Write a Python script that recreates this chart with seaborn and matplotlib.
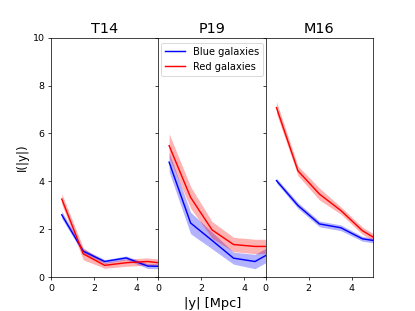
import numpy as np
import pandas as pd
import matplotlib
matplotlib.use("Agg")
import matplotlib.pyplot as plt
import seaborn as sns

panels = ["T14", "P19", "M16"]
y_bins = [0.5, 1.5, 2.5, 3.5, 4.5, 5.5]

# mean profiles and their band half-widths
blue_mean = {
    "T14": [2.6, 1.08, 0.65, 0.8, 0.46, 0.44],
    "P19": [4.8, 2.26, 1.53, 0.79, 0.65, 1.15],
    "M16": [4.03, 2.99, 2.22, 2.06, 1.6, 1.46],
}
blue_err = {
    "T14": [0.15, 0.1, 0.08, 0.08, 0.1, 0.1],
    "P19": [0.4, 0.45, 0.35, 0.25, 0.3, 0.3],
    "M16": [0.1, 0.12, 0.12, 0.12, 0.1, 0.1],
}
red_mean = {
    "T14": [3.26, 0.97, 0.49, 0.6, 0.65, 0.55],
    "P19": [5.49, 3.33, 1.97, 1.36, 1.28, 1.28],
    "M16": [7.08, 4.44, 3.47, 2.78, 1.94, 1.4],
}
red_err = {
    "T14": [0.22, 0.25, 0.12, 0.15, 0.15, 0.15],
    "P19": [0.5, 0.45, 0.35, 0.3, 0.3, 0.3],
    "M16": [0.25, 0.2, 0.25, 0.15, 0.15, 0.15],
}

plt.rcParams["font.family"] = ["DejaVu Sans"]
fig, axes = plt.subplots(1, 3, sharey=True, figsize=(6.4, 4.8))
fig.subplots_adjust(left=0.123, right=0.899, top=0.878, bottom=0.109, wspace=0)

for ax, name in zip(axes, panels):
    for label, mean, err, col in [
        ("Blue galaxies", blue_mean, blue_err, "blue"),
        ("Red galaxies", red_mean, red_err, "red"),
    ]:
        m = np.array(mean[name])
        e = np.array(err[name])
        df = pd.DataFrame({"y": y_bins, "I": m})
        sns.lineplot(data=df, x="y", y="I", color=col, label=label, ax=ax, lw=1.6)
        ax.fill_between(y_bins, m - e, m + e, color=col, alpha=0.3, lw=0)
    ax.set_title(name, fontsize=16)
    ax.set_xlim(0, 5)
    ax.set_ylim(0, 10)
    ax.set_xticks([0, 2, 4])
    ax.tick_params(labelsize=10.5)
    ax.set_xlabel("")
    ax.set_ylabel("")
    if name != "P19":
        ax.get_legend().remove()
    else:
        ax.legend(loc="upper center", fontsize=11)

axes[0].set_ylabel("I(|y|)", fontsize=13)
fig.supxlabel("|y| [Mpc]", x=0.513, y=0.005, fontsize=14.5)

fig.savefig("out.png", dpi=415 / 6.4)
